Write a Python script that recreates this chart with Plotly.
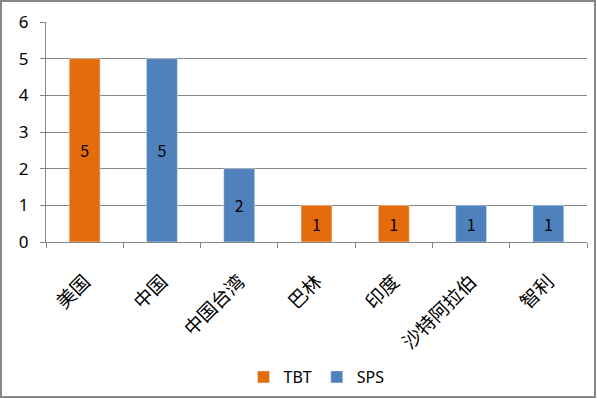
import plotly.graph_objects as go

categories = ["美国", "中国", "中国台湾", "巴林", "印度", "沙特阿拉伯", "智利"]
tbt_values = [5, None, None, 1, 1, None, None]
sps_values = [None, 5, 2, None, None, 1, 1]
y_ticks = [0, 1, 2, 3, 4, 5, 6]

W, H = 597, 399
L, R, T, B = 46, 10, 22, 157
pw, ph = W - L - R, H - T - B

fig = go.Figure()
fig.add_trace(go.Bar(name="TBT", x=categories, y=tbt_values, marker_color="#E46C0A",
                     texttemplate="%{y}", textposition="inside", insidetextanchor="middle",
                     textangle=0, textfont=dict(color="black", size=16)))
fig.add_trace(go.Bar(name="SPS", x=categories, y=sps_values, marker_color="#4F81BD",
                     texttemplate="%{y}", textposition="inside", insidetextanchor="middle",
                     textangle=0, textfont=dict(color="black", size=16)))

gray = "#868686"
fig.update_layout(
    width=W, height=H,
    margin=dict(l=L, r=R, t=T, b=B, autoexpand=False),
    barmode="overlay",
    bargap=0.6,
    plot_bgcolor="white", paper_bgcolor="white",
    font=dict(family="Noto Sans CJK SC, Noto Sans, sans-serif", color="black"),
    showlegend=True,
    legend=dict(orientation="h", x=0.5, xanchor="center", y=(242 - 377) / ph, yanchor="middle",
                font=dict(size=16, family="Noto Sans, sans-serif"), traceorder="normal",
                itemwidth=30, tracegroupgap=0),
    xaxis=dict(type="category", tickson="boundaries", ticks="outside", ticklen=5, tickcolor=gray,
               showline=True, linecolor=gray, linewidth=1, tickangle=-45, automargin=False,
               ticklabelstandoff=20,
               tickfont=dict(size=19, family="Noto Sans CJK SC"), showgrid=False),
    yaxis=dict(range=[0, 6], tickvals=y_ticks, ticks="outside", ticklen=5, tickcolor=gray,
               showline=True, linecolor=gray, linewidth=1, showgrid=True, gridcolor=gray,
               gridwidth=1, zeroline=False, automargin=False, ticklabelstandoff=8,
               tickfont=dict(size=17, family="Noto Sans, sans-serif")),
    shapes=[dict(type="rect", xref="paper", yref="paper",
                 x0=(1 - L) / pw, x1=(595 - L) / pw,
                 y0=(242 - 397) / ph, y1=(242 - 1) / ph,
                 line=dict(color=gray, width=2), fillcolor="rgba(0,0,0,0)", layer="above")],
)

fig.write_html("out.html", config={"displayModeBar": False},
               post_script="document.body.style.margin='0';")
